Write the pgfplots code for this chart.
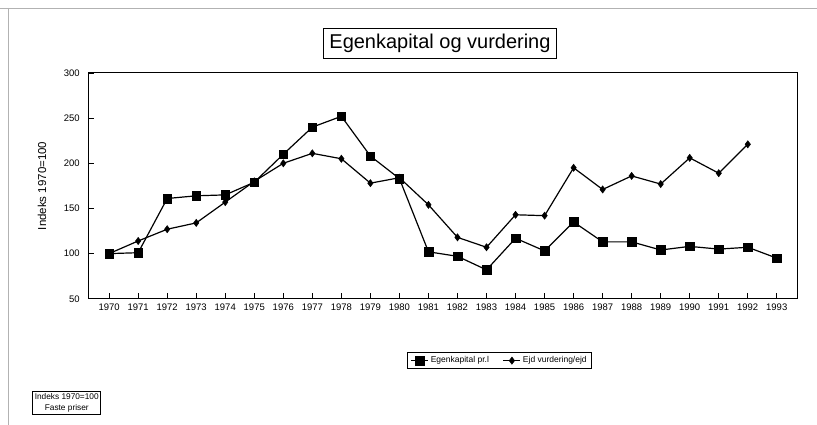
\documentclass[border=0pt]{standalone}
\usepackage{pgfplots}
\pgfplotsset{compat=1.18}
\usepackage{fontspec}
\setmainfont{Liberation Sans}

% Egenkapital pr. l (squares) and Ejd vurdering/ejd (diamonds), index 1970=100
\pgfplotstableread{
year egen
1970 100
1971 101
1972 161
1973 164
1974 165
1975 179
1976 210
1977 240
1978 252
1979 208
1980 183
1981 102
1982 97
1983 82
1984 117
1985 103
1986 135
1987 113
1988 113
1989 104
1990 108
1991 105
1992 107
1993 95
}\egentable

\pgfplotstableread{
year ejd
1970 100
1971 114
1972 127
1973 134
1974 157
1975 180
1976 200
1977 211
1978 205
1979 178
1980 184
1981 154
1982 118
1983 107
1984 143
1985 142
1986 195
1987 171
1988 186
1989 177
1990 206
1991 189
1992 221
}\ejdtable

\begin{document}
\begin{tikzpicture}[x=1pt,y=1pt]
  \path (0,0) rectangle (817,425);
  % outer frame (scan edge)
  \draw[gray!60, line width=0.6pt] (0,417) -- (817,417);
  \draw[gray!60, line width=0.6pt] (8,417) -- (8,0);

  \node[draw, line width=0.8pt, font=\fontsize{20}{22}\selectfont,
        inner xsep=6pt, minimum height=30pt] at (440,382) {Egenkapital og vurdering};

  \begin{axis}[
      at={(88pt,126pt)}, anchor=south west,
      scale only axis,
      width=710pt, height=226pt,
      xmin=1969.28, xmax=1993.72,
      ymin=50, ymax=300,
      xtick={1970,...,1993},
      ytick={50,100,...,300},
      tick align=inside,
      xtick pos=bottom, ytick pos=left,
      major tick length=6pt,
      axis line style={line width=0.9pt},
      every tick/.style={black, line width=0.8pt},
      /pgf/number format/1000 sep={},
      /pgf/number format/assume math mode=true,
      tick label style={font=\fontsize{9.5}{10}\selectfont},
      yticklabel style={xshift=-5pt},
      xticklabel style={yshift=-2pt},
      ylabel={Indeks 1970=100},
      ylabel style={at={(axis description cs:-0.065,0.5)}, anchor=center,
                    font=\fontsize{11.5}{12}\selectfont},
      legend style={at={(0.58,-0.274)}, anchor=center, legend columns=2,
                    draw=black, line width=0.8pt,
                    font=\fontsize{8.5}{9}\selectfont,
                    /tikz/every even column/.append style={column sep=12pt}},
      legend image post style={line width=1pt},
    ]
    \addplot[black, line width=1.2pt, mark=square*, mark size=4.3pt,
             mark options={solid, line width=0.5pt}]
      table[x=year, y=egen] {\egentable};
    \addlegendentry{Egenkapital pr.l}
    \addplot[black, line width=1.2pt, mark=diamond*, mark size=3.6pt,
             mark options={solid, line width=0.5pt}]
      table[x=year, y=ejd] {\ejdtable};
    \addlegendentry{Ejd vurdering/ejd}
  \end{axis}

  \node[draw, line width=0.7pt, align=center, inner sep=2pt,
        font=\fontsize{8.3}{11}\selectfont] at (66.5,21.5) {Indeks 1970=100\\Faste priser};
\end{tikzpicture}
\end{document}
